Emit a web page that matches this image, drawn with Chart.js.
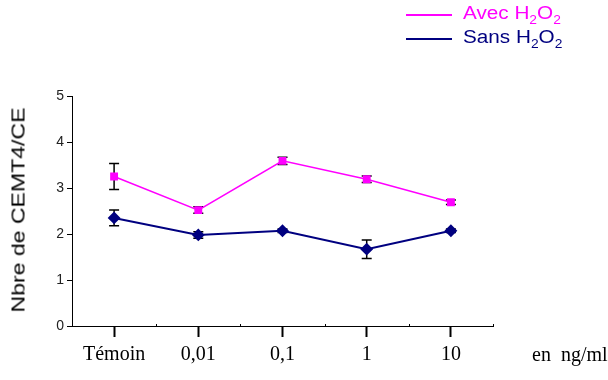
<!DOCTYPE html>
<html>
<head>
<meta charset="utf-8">
<script src="https://cdn.jsdelivr.net/npm/chart.js@4"></script>
<style>
  body { margin: 0; background: #fff; }
  #wrap { position: relative; width: 608px; height: 380px; overflow: hidden; }
  .leg { position: absolute; font: 18px Arial, "Liberation Sans", sans-serif; white-space: nowrap; line-height: 20px;
         transform-origin: 0 0; transform: scaleX(1.15); }
  .leg sub { font-size: 12px; vertical-align: -5px; line-height: 0; }
  .ln { position: absolute; left: 406px; width: 46px; height: 0; border-top: 2px solid; }
  #ylab { position: absolute; left: 19px; top: 210px; font: 18px Arial, "Liberation Sans", sans-serif;
          white-space: nowrap; color: #000; }
  #unit { position: absolute; left: 532px; top: 343px; font: 20px "Liberation Serif", "Times New Roman", serif; white-space: nowrap; }
</style>
</head>
<body>
<div id="wrap">
  <canvas id="chart" width="608" height="380"></canvas>
  <span class="ln" style="top:14px;border-color:#ff00ff"></span>
  <span class="ln" style="top:38px;border-color:#000080"></span>
  <div class="leg" style="left:463px;top:3px;color:#ff00ff">Avec H<sub>2</sub>O<sub>2</sub></div>
  <div class="leg" style="left:463px;top:27px;color:#000080">Sans H<sub>2</sub>O<sub>2</sub></div>
  <div id="ylab">Nbre de CEMT4/CE</div>
  <div id="unit">en&nbsp; ng/ml</div>
</div>
<script>
// données
const doses = ["Témoin", "0,01", "0,1", "1", "10"];
const avec = [3.25, 2.52, 3.59, 3.19, 2.69];
const avecErr = [0.28, 0.07, 0.08, 0.07, 0.05];
const sans = [2.35, 1.98, 2.07, 1.67, 2.07];
const sansErr = [0.17, 0.07, 0.04, 0.20, 0.04];
const yTicks = [0, 1, 2, 3, 4, 5];

// titre vertical étiré comme sur l'original (205 px de long)
const ylab = document.getElementById("ylab");
const k = 205 / ylab.offsetWidth;
ylab.style.transform = "translate(-50%, -50%) rotate(-90deg) scaleX(" + k + ")";

// barres d'erreur dessinées avec les échelles du graphique
const errorBars = {
    id: "errorBars",
    beforeDatasetsDraw(chart) {
        const ctx = chart.ctx;
        const x = chart.scales.x, y = chart.scales.y;
        const errs = [avecErr, sansErr];
        ctx.save();
        ctx.strokeStyle = "#000";
        ctx.lineWidth = 1.5;
        chart.data.datasets.forEach((ds, i) => {
            ds.data.forEach((v, j) => {
                const px = x.getPixelForValue(j);
                const top = y.getPixelForValue(v + errs[i][j]);
                const bot = y.getPixelForValue(v - errs[i][j]);
                ctx.beginPath();
                ctx.moveTo(px, top); ctx.lineTo(px, bot);
                ctx.moveTo(px - 5, top); ctx.lineTo(px + 5, top);
                ctx.moveTo(px - 5, bot); ctx.lineTo(px + 5, bot);
                ctx.stroke();
            });
        });
        ctx.restore();
    },
    afterDraw(chart) {
        // petits traits entre les catégories
        const ctx = chart.ctx;
        const x = chart.scales.x;
        const b = chart.chartArea.bottom;
        ctx.save();
        ctx.strokeStyle = "#000";
        ctx.lineWidth = 1;
        for (let j = 0; j < doses.length; j++) {
            const px = Math.round(x.getPixelForValue(j) + (x.getPixelForValue(1) - x.getPixelForValue(0)) / 2) + 0.5;
            ctx.beginPath();
            ctx.moveTo(px, b - 2); ctx.lineTo(px, b + 1);
            ctx.stroke();
        }
        ctx.restore();
    }
};

new Chart(document.getElementById("chart"), {
    type: "line",
    data: {
        labels: doses,
        datasets: [
            { label: "Avec H2O2", data: avec, borderColor: "#ff00ff", backgroundColor: "#ff00ff",
              borderWidth: 1.5, pointStyle: "rect", pointRadius: 4.5, tension: 0 },
            { label: "Sans H2O2", data: sans, borderColor: "#000080", backgroundColor: "#000080",
              borderWidth: 2, pointStyle: "rectRot", pointRadius: 5, tension: 0 }
        ]
    },
    options: {
        responsive: false,
        animation: false,
        layout: { padding: { top: 96, right: 115, left: 0, bottom: 0 } },
        plugins: { legend: { display: false }, tooltip: { enabled: false } },
        scales: {
            x: {
                offset: true,
                grid: { display: true, offset: false, drawOnChartArea: false, drawTicks: true,
                        tickLength: 11, tickWidth: 2, tickColor: "#000" },
                border: { color: "#000", width: 1 },
                ticks: { color: "#000", padding: 6, maxRotation: 0,
                         font: { family: "'Liberation Serif', 'Times New Roman', serif", size: 20 } },
                afterFit(s) { s.height = 54; }
            },
            y: {
                min: 0, max: 5,
                afterBuildTicks(s) { s.ticks = yTicks.map(v => ({ value: v })); },
                grid: { display: true, drawOnChartArea: false, drawTicks: true, tickLength: 5, tickColor: "#000" },
                border: { color: "#000", width: 1 },
                ticks: { color: "#222", padding: 3,
                         font: { family: "Arial, 'Liberation Sans', sans-serif", size: 14 } },
                afterFit(s) { s.width = 72; }
            }
        }
    },
    plugins: [errorBars]
});
</script>
</body>
</html>
